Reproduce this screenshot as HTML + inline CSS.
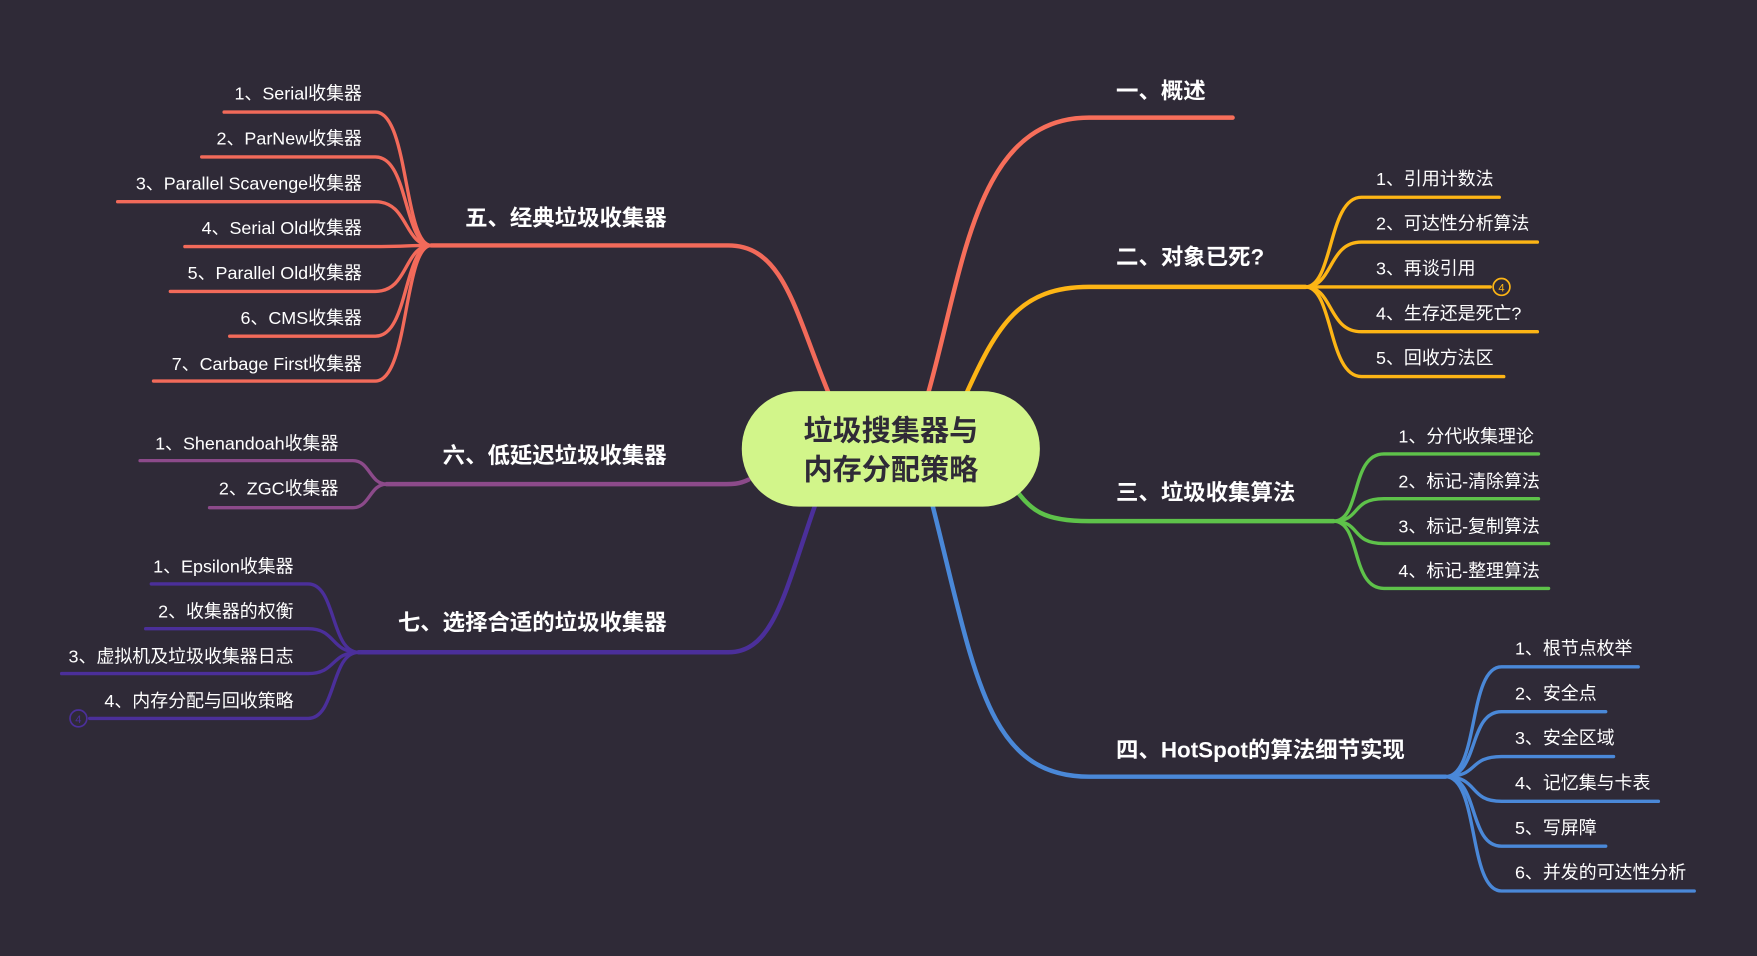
<!DOCTYPE html>
<html><head><meta charset="utf-8"><style>
html,body{margin:0;padding:0;background:#2f2a37;overflow:hidden}
svg{display:block}
text{font-family:"Liberation Sans","Noto Sans CJK SC",sans-serif;fill:#fff}
.m{font-size:20px;font-weight:bold}
.s{font-size:16px}
</style></head><body>
<svg width="1757" height="956" viewBox="0 0 1568 853" preserveAspectRatio="none" xmlns="http://www.w3.org/2000/svg">
<rect width="1568" height="853" fill="#2f2a37"/>
<g fill="none" stroke-linecap="round">
<g stroke="#f76e5a" stroke-width="4">
<path d="M828,352 C860,240 870,105 972,105 L1100,105"/>
</g>
<g stroke="#fdb515">
<path stroke-width="4" d="M862,352 C890,290 910,256 972,256 L1165,256"/>
<g stroke-width="3">
<path d="M1165,256 C1190,256 1185,176 1215,176 L1338,176"/>
<path d="M1165,256 C1190,256 1185,216 1215,216 L1372,216"/>
<path d="M1165,256 L1330,256"/>
<path d="M1165,256 C1190,256 1185,296 1215,296 L1372,296"/>
<path d="M1165,256 C1190,256 1185,336 1215,336 L1342,336"/>
</g>
</g>
<g stroke="#5ec24a">
<path stroke-width="4" d="M905,435 C920,455 930,465 972,465 L1190,465"/>
<g stroke-width="3">
<path d="M1190,465 C1215,465 1205,405 1235,405 L1373,405"/>
<path d="M1190,465 C1215,465 1205,445 1235,445 L1373,445"/>
<path d="M1190,465 C1215,465 1205,485 1235,485 L1382,485"/>
<path d="M1190,465 C1215,465 1205,525 1235,525 L1382,525"/>
</g>
</g>
<g stroke="#4a88d8">
<path stroke-width="4" d="M832,450 C870,600 880,693 972,693 L1290,693"/>
<g stroke-width="3">
<path d="M1290,693 C1320,693 1310,595 1340,595 L1462,595"/>
<path d="M1290,693 C1320,693 1310,635 1340,635 L1433,635"/>
<path d="M1290,693 C1320,693 1310,675 1340,675 L1440,675"/>
<path d="M1290,693 C1320,693 1310,715 1340,715 L1480,715"/>
<path d="M1290,693 C1320,693 1310,755 1340,755 L1433,755"/>
<path d="M1290,693 C1320,693 1310,795 1340,795 L1512,795"/>
</g>
</g>
<g stroke="#f26a5a">
<path stroke-width="4" d="M740,352 C710,280 700,219 650,219 L385,219"/>
<g stroke-width="3">
<path d="M385,219 C360,219 365,100 335,100 L200,100"/>
<path d="M385,219 C360,219 365,140 335,140 L180,140"/>
<path d="M385,219 C360,219 365,180 335,180 L105,180"/>
<path d="M385,219 C360,219 365,220 335,220 L165,220"/>
<path d="M385,219 C360,219 365,260 335,260 L152,260"/>
<path d="M385,219 C360,219 365,300 335,300 L205,300"/>
<path d="M385,219 C360,219 365,340 335,340 L137,340"/>
</g>
</g>
<g stroke="#8c4a8a">
<path stroke-width="4" d="M668,428 C660,432 655,432 640,432 L345,432"/>
<g stroke-width="3">
<path d="M345,432 C330,432 330,411 315,411 L125,411"/>
<path d="M345,432 C330,432 330,453 315,453 L187,453"/>
</g>
</g>
<g stroke="#4b2f9a">
<path stroke-width="4" d="M727,452 C700,530 690,582 650,582 L320,582"/>
<g stroke-width="3">
<path d="M320,582 C295,582 300,521 275,521 L135,521"/>
<path d="M320,582 C295,582 300,561 275,561 L130,561"/>
<path d="M320,582 C295,582 300,601 275,601 L55,601"/>
<path d="M320,582 C295,582 300,641 275,641 L80,641"/>
</g>
</g>
</g>
<circle cx="1340" cy="256" r="7.5" fill="#2f2a37" stroke="#fdb515" stroke-width="1.5"/>
<text x="1340" y="260" font-size="10" text-anchor="middle" style="fill:#fdb515">4</text>
<circle cx="70" cy="641" r="7.5" fill="#2f2a37" stroke="#4b2f9a" stroke-width="1.5"/>
<text x="70" y="645" font-size="10" text-anchor="middle" style="fill:#4b2f9a">4</text>

<rect x="662" y="349" width="266" height="103" rx="51" fill="#d2f58a"/>
<text x="795" y="393" font-size="26" font-weight="bold" text-anchor="middle" style="fill:#2f2a37">垃圾搜集器与</text>
<text x="795" y="428" font-size="26" font-weight="bold" text-anchor="middle" style="fill:#2f2a37">内存分配策略</text>

<text class="m" x="996" y="88">一、概述</text>
<text class="m" x="996" y="236">二、对象已死?</text>
<text class="m" x="996" y="446">三、垃圾收集算法</text>
<text class="m" x="996" y="676">四、HotSpot的算法细节实现</text>
<text class="m" x="595" y="201" text-anchor="end">五、经典垃圾收集器</text>
<text class="m" x="595" y="413" text-anchor="end">六、低延迟垃圾收集器</text>
<text class="m" x="595" y="562" text-anchor="end">七、选择合适的垃圾收集器</text>

<text class="s" x="1228" y="165">1、引用计数法</text>
<text class="s" x="1228" y="205">2、可达性分析算法</text>
<text class="s" x="1228" y="245">3、再谈引用</text>
<text class="s" x="1228" y="285">4、生存还是死亡?</text>
<text class="s" x="1228" y="325">5、回收方法区</text>
<text class="s" x="1248" y="395">1、分代收集理论</text>
<text class="s" x="1248" y="435">2、标记-清除算法</text>
<text class="s" x="1248" y="475">3、标记-复制算法</text>
<text class="s" x="1248" y="515">4、标记-整理算法</text>
<text class="s" x="1352" y="584">1、根节点枚举</text>
<text class="s" x="1352" y="624">2、安全点</text>
<text class="s" x="1352" y="664">3、安全区域</text>
<text class="s" x="1352" y="704">4、记忆集与卡表</text>
<text class="s" x="1352" y="744">5、写屏障</text>
<text class="s" x="1352" y="784">6、并发的可达性分析</text>
<text class="s" x="323" y="89" text-anchor="end">1、Serial收集器</text>
<text class="s" x="323" y="129" text-anchor="end">2、ParNew收集器</text>
<text class="s" x="323" y="169" text-anchor="end">3、Parallel Scavenge收集器</text>
<text class="s" x="323" y="209" text-anchor="end">4、Serial Old收集器</text>
<text class="s" x="323" y="249" text-anchor="end">5、Parallel Old收集器</text>
<text class="s" x="323" y="289" text-anchor="end">6、CMS收集器</text>
<text class="s" x="323" y="330" text-anchor="end">7、Carbage First收集器</text>
<text class="s" x="302" y="401" text-anchor="end">1、Shenandoah收集器</text>
<text class="s" x="302" y="441" text-anchor="end">2、ZGC收集器</text>
<text class="s" x="262" y="511" text-anchor="end">1、Epsilon收集器</text>
<text class="s" x="262" y="551" text-anchor="end">2、收集器的权衡</text>
<text class="s" x="262" y="591" text-anchor="end">3、虚拟机及垃圾收集器日志</text>
<text class="s" x="262" y="631" text-anchor="end">4、内存分配与回收策略</text>
</svg>
</body></html>
